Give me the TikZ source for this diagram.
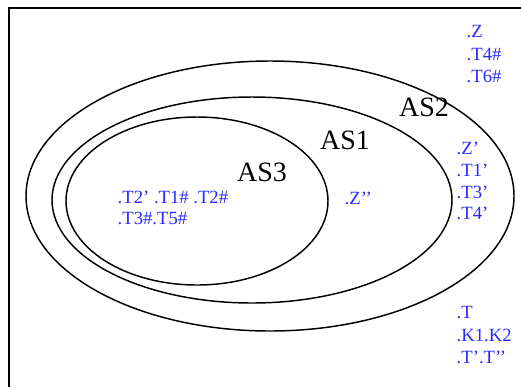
\documentclass[tikz,border=0pt]{standalone}
\usepackage{fontspec}
\setmainfont{Liberation Serif}
\definecolor{setLabelBlue}{RGB}{40,40,255}

\begin{document}
\begin{tikzpicture}[x=0.75pt, y=-0.75pt, line width=1.1pt,
    every node/.style={font=\fontsize{14}{16}\selectfont, inner sep=0pt, anchor=west},
    elemlabel/.style={text=setLabelBlue},
    setname/.style={font=\fontsize{21}{23}\selectfont, anchor=center}]
            \useasboundingbox (0,0) rectangle (521,387);
            \draw (521,8) -- (9,8) -- (9,387);
            % the three sets
            \draw (270,196) ellipse [x radius=244, y radius=135];
            \draw (252,200) ellipse [x radius=200, y radius=103];
            \draw (197,201) ellipse [x radius=131, y radius=84];
            \node[setname] (as2) at (424,107) {AS2};
            \node[setname] (as1) at (345,140) {AS1};
            \node[setname] (as3) at (262,172) {AS3};
            % elements
            \foreach \i/\y/\t in {1/32/.Z,2/54/.T4\#,3/76/.T6\#}{
                \node[elemlabel] (outA\i) at (466,\y) {\t};
            }
            \foreach \i/\y/\t in {1/148/.Z',2/170/.T1',3/192/.T3',4/213/.T4'}{
                \node[elemlabel] (ringB\i) at (456,\y) {\t};
            }
            \foreach \i/\y/\t in {1/313/.T,2/335/.K1.K2,3/357/.T'.T'{}'}{
                \node[elemlabel] (outC\i) at (456,\y) {\t};
            }
            \node[elemlabel] (zpp) at (344,198) {.Z'{}'};
            \node[elemlabel] (inA) at (117,197) {.T2' .T1\# .T2\#};
            \node[elemlabel] (inB) at (117,218) {.T3\#.T5\#};
        \end{tikzpicture}
\end{document}
